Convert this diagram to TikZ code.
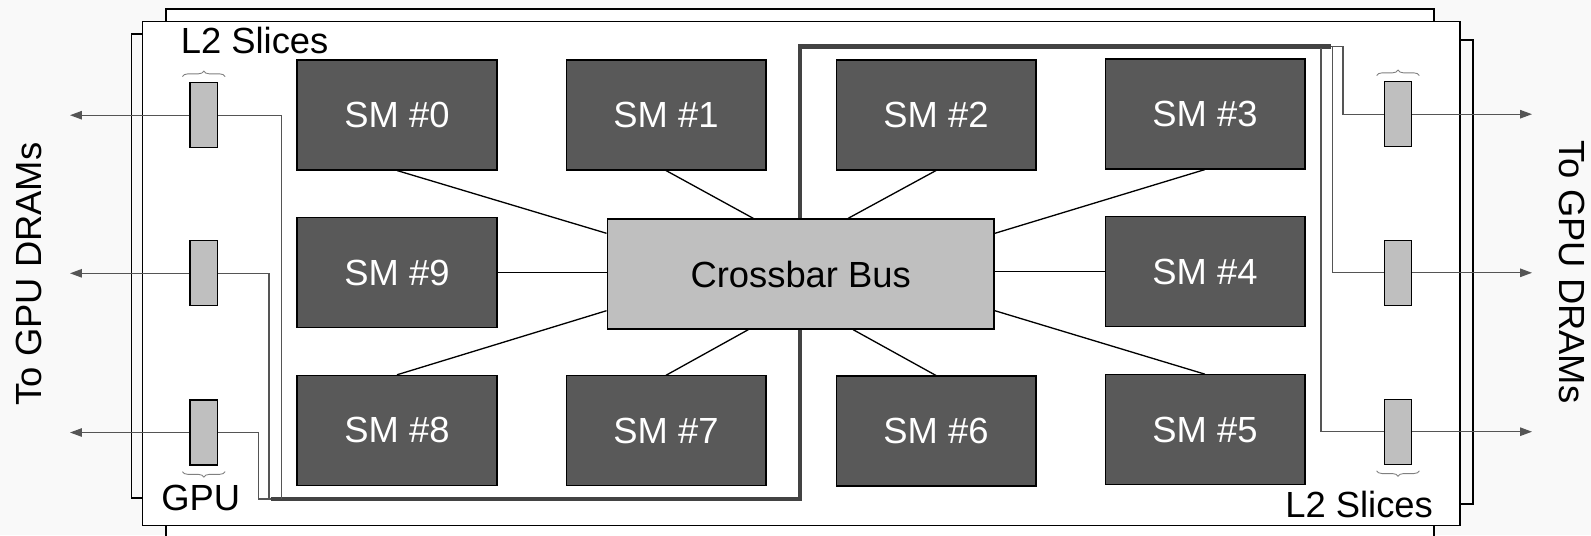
\documentclass[tikz,border=0pt]{standalone}
\usepackage{fontspec}
\setmainfont{Liberation Sans}
\usetikzlibrary{arrows.meta, calc, decorations.pathreplacing}
\definecolor{smgray}{RGB}{89,89,89}
\definecolor{busgray}{RGB}{191,191,191}
\definecolor{wiregray}{RGB}{85,85,85}
\definecolor{trunkgray}{RGB}{67,67,67}
\definecolor{pagegray}{RGB}{249,249,249}
\newcommand{\diafont}{\fontsize{20.7}{24}\selectfont}

\begin{document}
\begin{tikzpicture}[x=0.02cm, y=-0.02cm,
  sm/.style={draw, line width=0.6pt, fill=smgray, text=white, font=\diafont,
             minimum width=4cm, minimum height=2.2cm, inner sep=0pt},
  xbar/.style={draw, line width=0.8pt, fill=busgray, font=\diafont,
               minimum width=7.74cm, minimum height=2.2cm, inner sep=0pt},
  slice/.style={draw, line width=0.7pt, fill=busgray,
                minimum width=0.55cm, minimum height=1.3cm, inner sep=0pt},
  frame/.style={draw, line width=0.8pt},
  spoke/.style={black, line width=0.75pt},
  wire/.style={wiregray, line width=0.7pt},
  dramwire/.style={wire, -{Triangle[length=0.24cm, width=0.17cm]}},
  trunk/.style={trunkgray, line width=2.8pt},
  brc/.style={gray, line width=0.5pt, decorate,
              decoration={brace, amplitude=0.11cm}},
  lbl/.style={font=\diafont, inner sep=0pt},
]
\clip (0,0) rectangle (1591,535);
\fill[pagegray] (0,0) rectangle (1591,535);

% stacked chip outlines
\draw[frame, fill=white] (166,9) rectangle (1434,560);
\draw[frame] (142,34) -- (131.5,34) -- (131.5,498) -- (142,498);
\draw[frame] (1460,40) -- (1473,40) -- (1473,504) -- (1460,504);
\draw[frame, fill=white] (142.3,21.7) rectangle (1460,525.7);

% thick interconnect
\coordinate (trunkL) at (270.7,499);
\coordinate (trunkR) at (1331,46.7);
\draw[trunk] (trunkL) -| (800,46.7) -- (trunkR);

% SMs and crossbar
\node[sm] (sm0) at (397,115) {SM \#0};
\node[sm] (sm1) at (666,115) {SM \#1};
\node[sm] (sm2) at (936,115) {SM \#2};
\node[sm] (sm3) at (1205,114) {SM \#3};
\node[sm] (sm9) at (397,272.7) {SM \#9};
\node[xbar] (bus) at (800.7,274) {Crossbar Bus};
\node[sm] (sm4) at (1205,271.7) {SM \#4};
\node[sm] (sm8) at (397,430.3) {SM \#8};
\node[sm] (sm7) at (666,430.8) {SM \#7};
\node[sm] (sm6) at (936,431) {SM \#6};
\node[sm] (sm5) at (1205,429.7) {SM \#5};

\draw[spoke] (sm0.south) -- ([yshift=-0.3cm]bus.north west);
\draw[spoke] (sm1.south) -- ([xshift=-0.95cm]bus.north);
\draw[spoke] (sm2.south) -- ([xshift=0.95cm]bus.north);
\draw[spoke] (sm3.south) -- ([yshift=-0.3cm]bus.north east);
\draw[spoke] (sm9.east) -- (sm9.east -| bus.west);
\draw[spoke] (sm4.west) -- (sm4.west -| bus.east);
\draw[spoke] (sm8.north) -- ([yshift=0.38cm]bus.south west);
\draw[spoke] (sm7.north) -- ([xshift=-1.05cm]bus.south);
\draw[spoke] (sm6.north) -- ([xshift=1.05cm]bus.south);
\draw[spoke] (sm5.north) -- ([yshift=0.38cm]bus.south east);

% L2 slices
\node[slice] (l1) at (203.8,115.2) {};
\node[slice] (l2) at (203.8,273.3) {};
\node[slice] (l3) at (203.8,432.5) {};
\node[slice] (r1) at (1398,114.2) {};
\node[slice] (r2) at (1398,272.8) {};
\node[slice] (r3) at (1398,431.7) {};

\coordinate (dramL) at (70,0);
\coordinate (dramR) at (1532,0);
\coordinate (jl1) at (281.7,499);
\coordinate (jl2) at (269,499);
\coordinate (jl3) at (258.3,499);
\coordinate (jr2) at (1332.7,46.7);
\coordinate (jr3) at (1321,48);

\draw[wire] (l1.east) -| (jl1);
\draw[wire] (l2.east) -| (jl2);
\draw[wire] (l3.east) -| (jl3) -- (trunkL);
\draw[wire] (trunkR) -- ++(12,0) |- (r1.west);
\draw[wire] (jr2) |- (r2.west);
\draw[wire] (jr3) |- (r3.west);

\foreach \s in {l1,l2,l3}
  \draw[dramwire] (\s.west) -- (\s.west -| dramL);
\foreach \s in {r1,r2,r3}
  \draw[dramwire] (\s.east) -- (\s.east -| dramR);

\draw[brc] ([shift={(-0.14cm,0.11cm)}]l1.north west) -- ([shift={(0.14cm,0.11cm)}]l1.north east);
\draw[brc] ([shift={(0.14cm,-0.12cm)}]l3.south east) -- ([shift={(-0.14cm,-0.12cm)}]l3.south west);
\draw[brc] ([shift={(-0.14cm,0.11cm)}]r1.north west) -- ([shift={(0.14cm,0.11cm)}]r1.north east);
\draw[brc] ([shift={(0.14cm,-0.12cm)}]r3.south east) -- ([shift={(-0.14cm,-0.12cm)}]r3.south west);

% labels
\node[lbl, anchor=base west] (l2top) at (180.5,53.3) {L2 Slices};
\node[lbl, anchor=base west] (gpu) at (161,510) {GPU};
\node[lbl, anchor=base west] (l2bot) at (1285,517.7) {L2 Slices};
\node[lbl, rotate=90] (dramtxtL) at (28.5,274) {To GPU DRAMs};
\node[lbl, rotate=-90] (dramtxtR) at (1572,272) {To GPU DRAMs};
\end{tikzpicture}
\end{document}
